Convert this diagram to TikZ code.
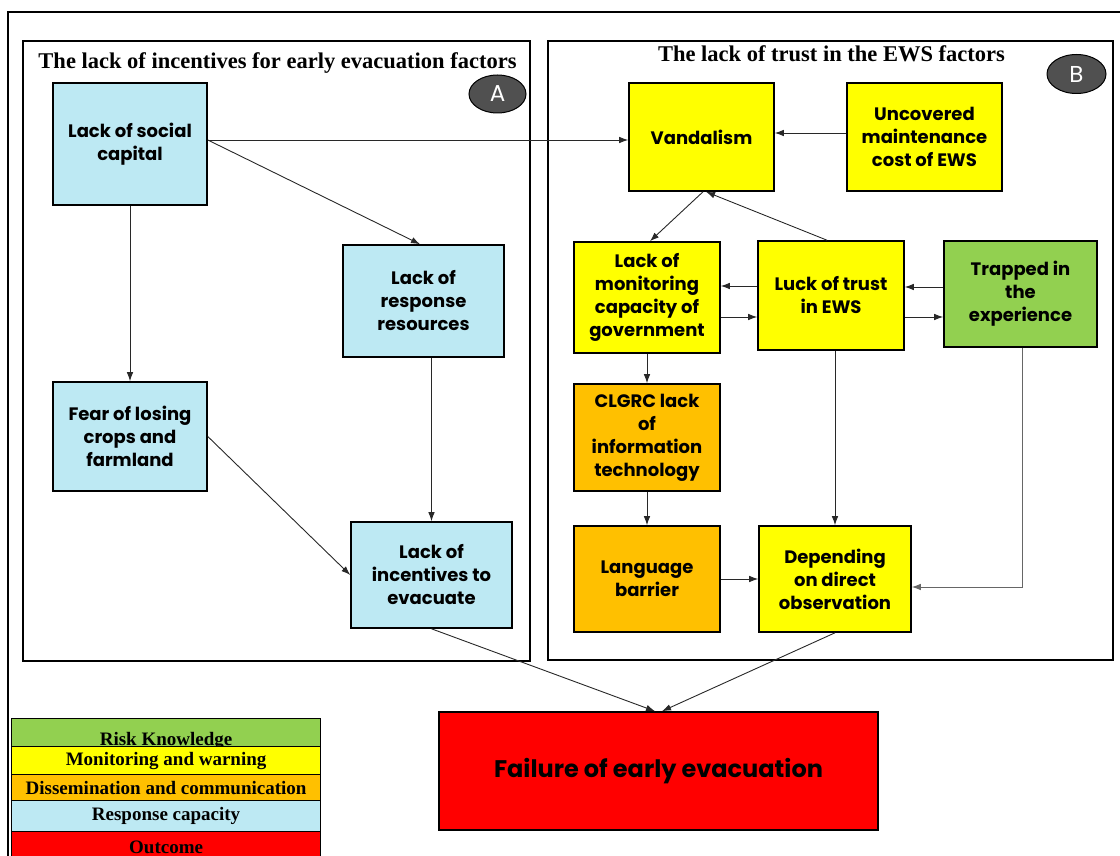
\documentclass[tikz,border=0pt]{standalone}
\usepackage{fontspec}
\setmainfont{Liberation Serif}
\newfontfamily\boxfont{Poppins}
\usetikzlibrary{arrows.meta,shapes.geometric,calc}
\definecolor{rcblue}{RGB}{189,233,243}
\definecolor{mwyellow}{RGB}{255,255,0}
\definecolor{dcorange}{RGB}{255,192,0}
\definecolor{rkgreen}{RGB}{146,208,80}
\definecolor{outred}{RGB}{255,0,0}
\definecolor{badgegray}{RGB}{80,80,80}
\definecolor{linkgray}{RGB}{40,40,40}
\begin{document}
\begin{tikzpicture}[x=1pt,y=-1pt,
  factor/.style={draw=black,line width=1.6pt,align=center,inner sep=0pt,
    font=\boxfont\bfseries\fontsize{18}{23}\selectfont},
  rcbox/.style={factor,fill=rcblue},
  mwbox/.style={factor,fill=mwyellow},
  dcbox/.style={factor,fill=dcorange},
  rkbox/.style={factor,fill=rkgreen},
  panel/.style={draw=black,line width=1.6pt},
  ptitle/.style={font=\bfseries\fontsize{22.5}{26}\selectfont,inner sep=0pt},
  badge/.style={ellipse,draw=black,line width=1pt,fill=badgegray,text=white,
    inner sep=0pt,font=\boxfont\fontsize{23}{25}\selectfont},
  arr/.style={draw=linkgray,line width=0.9pt,-{Latex[length=9pt,width=6.5pt]}},
  legrow/.style={draw=black,line width=1.2pt,minimum width=309pt,inner sep=0pt,
    font=\bfseries\fontsize{19}{21}\selectfont}
]
\useasboundingbox (0,0) rectangle (1120,856);
% outer frame (only top and left visible)
\draw[line width=1.6pt] (8,900) -- (8,12) -- (1130,12);
% panels
\draw[panel] (23,41) rectangle (530,661);
\draw[panel] (548,41) rectangle (1113,660);
\node[ptitle] (titleA) at (277.5,63) {The lack of incentives for early evacuation factors};
\node[ptitle] (titleB) at (831.5,54) {The lack of trust in the EWS factors};
\node[badge,minimum width=57pt,minimum height=38pt] (badgeA) at (497.5,94) {A};
\node[badge,minimum width=59pt,minimum height=39pt] (badgeB) at (1076.5,74) {B};

% panel A nodes
\node[rcbox,minimum width=154pt,minimum height=122pt] (sc) at (130,144) {Lack of social\\capital};
\node[rcbox,minimum width=161pt,minimum height=112pt] (resp) at (423.5,301) {Lack of\\response\\resources};
\node[rcbox,minimum width=154pt,minimum height=109pt] (fear) at (130,436.5) {Fear of losing\\crops and\\farmland};
\node[rcbox,minimum width=161pt,minimum height=106pt] (inc) at (431.5,575) {Lack of\\incentives to\\evacuate};

% panel B nodes
\node[mwbox,minimum width=145pt,minimum height=108pt] (vand) at (701.5,137) {Vandalism};
\node[mwbox,minimum width=155pt,minimum height=108pt] (unc) at (924.5,137) {Uncovered\\maintenance\\cost of EWS};
\node[mwbox,minimum width=146pt,minimum height=111pt] (mon) at (647,297.5) {Lack of\\monitoring\\capacity of\\government};
\node[mwbox,minimum width=146pt,minimum height=109pt] (luck) at (831,295.5) {Luck of trust\\in EWS};
\node[rkbox,minimum width=153pt,minimum height=106pt] (trap) at (1020.5,294) {Trapped in\\the\\experience};
\node[dcbox,minimum width=146pt,minimum height=107pt] (clg) at (647,437.5) {CLGRC lack\\of\\information\\technology};
\node[dcbox,minimum width=146pt,minimum height=106pt] (lang) at (647,579) {Language\\barrier};
\node[mwbox,minimum width=152pt,minimum height=106pt] (dep) at (835,579) {Depending\\on direct\\observation};

% outcome
\node[factor,fill=outred,minimum width=439pt,minimum height=118pt,
  font=\boxfont\bfseries\fontsize{24}{28}\selectfont] (fail) at (658.5,771) {Failure of early evacuation};

% connectors panel A
\draw[arr] ([yshift=4pt]sc.east) -- ([yshift=4pt]sc.east -| vand.west);
\draw[arr] ([yshift=4pt]sc.east) -- ([xshift=-3.5pt]resp.north);
\draw[arr] (sc.south) -- (fear.north);
\draw[arr] (resp.south -| inc.north) -- (inc.north);
\draw[arr] (fear.east) -- (inc.west);
\draw[arr] (inc.south) -- ([xshift=-3.5pt]fail.north);
\draw[arr] (dep.south) -- ([xshift=3.5pt]fail.north);

% connectors panel B
\draw[arr] ([yshift=4pt]unc.west) -- ([yshift=4pt]vand.east);
\draw[arr] ([xshift=1.5pt]vand.south) -- ([xshift=3pt]mon.north);
\draw[arr] ([xshift=-4pt]luck.north) -- ([xshift=4.5pt]vand.south);
\draw[arr] ([yshift=9.5pt]luck.west) -- ([yshift=9.5pt]luck.west -| mon.east);
\draw[arr] ([yshift=-21.5pt]luck.west -| mon.east) -- ([yshift=-21.5pt]luck.west);
\draw[arr] ([yshift=8.5pt]luck.east -| trap.west) -- ([yshift=8.5pt]luck.east);
\draw[arr] ([yshift=-21.5pt]luck.east) -- ([yshift=-21.5pt]luck.east -| trap.west);
\draw[arr] (mon.south) -- (clg.north);
\draw[arr] (clg.south) -- (lang.north);
\draw[arr] (lang.east) -- (dep.west);
\draw[arr] (luck.south -| dep.north) -- (dep.north);
\draw[arr,draw=gray!80!black] ([xshift=1.5pt]trap.south) |- ([yshift=-8pt]dep.east);

% legend
\node[legrow,fill=rkgreen,minimum height=28pt,text depth=0pt,anchor=north west,
  text height=25pt] (lgrk) at (11,718) {Risk Knowledge};
\node[legrow,fill=mwyellow,minimum height=28pt,anchor=north west] (lgmw) at (11,746) {Monitoring and warning};
\node[legrow,fill=dcorange,minimum height=26pt,anchor=north west] (lgdc) at (11,774) {Dissemination and communication};
\node[legrow,fill=rcblue,minimum height=31pt,anchor=north west] (lgrc) at (11,800) {Response capacity};
\node[legrow,fill=outred,minimum height=31pt,anchor=north west] (lgout) at (11,831) {Outcome};
\end{tikzpicture}
\end{document}
